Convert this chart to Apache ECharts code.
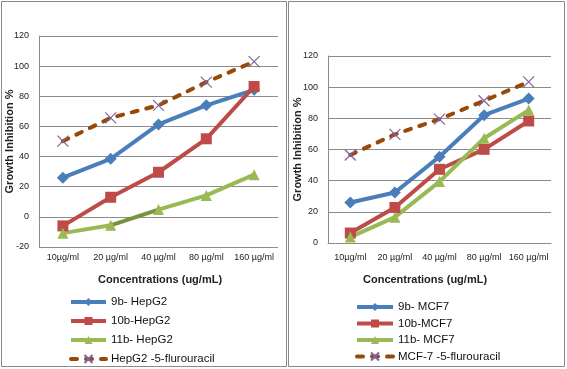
<!DOCTYPE html>
<html><head><meta charset="utf-8">
<script src="https://cdn.jsdelivr.net/npm/echarts@6/dist/echarts.min.js"></script>
<style>html,body{margin:0;padding:0;background:#fff}#c{width:567px;height:369px}</style>
</head><body><div id="c"></div>
<script>
const categories = ['10µg/ml', '20 µg/ml', '40 µg/ml', '80 µg/ml', '160 µg/ml'];
const yTicksLeft = { min: -20, max: 120, step: 20 };
const yTicksRight = { min: 0, max: 120, step: 20 };

const hep9b = [26, 38.5, 61.3, 74, 84.3];
const hep10b = [-6, 13, 29.6, 51.8, 86.5];
const hep11b = [-10.8, -5.6, 4.8, 14.2, 28];
const hep5fu = [50.2, 65.7, 74, 89.4, 103];

const mcf9b = [26, 32.4, 55.4, 82, 92.7];
const mcf10b = [6.4, 22.8, 47.3, 60.1, 78.3];
const mcf11b = [3.8, 16.6, 39.4, 67.2, 85.3];
const mcf5fu = [56.5, 69.7, 79.5, 91.3, 103.4];

const FONT = 'Liberation Sans';
const BLUE = '#4A7EBB', RED = '#BE4B48', GREEN = '#98B954', BROWN = '#984807', PURPLE = '#7F63A1', DKGREEN = '#77933C';
const GRIDC = '#8c8c8c';
const XPATH = 'path://M0,0L10,10M10,0L0,10';

function mk(name, data, color, symbol, size, xi, lineColor) {
  return {
    name, type: 'line', data, xAxisIndex: xi, yAxisIndex: xi,
    symbol, symbolSize: size, showSymbol: true,
    lineStyle: { color: lineColor || color, width: 4 }, itemStyle: { color },
    emphasis: { disabled: true }, animation: false
  };
}
function fu(name, data, xi) {
  return {
    name, type: 'line', data, xAxisIndex: xi, yAxisIndex: xi,
    symbol: XPATH, symbolSize: 11,
    lineStyle: { color: BROWN, width: 4, type: [6, 9], cap: 'round' },
    itemStyle: { color: 'rgba(0,0,0,0)', borderColor: PURPLE, borderWidth: 1.2 },
    emphasis: { disabled: true }, animation: false, z: 3
  };
}
// the 20→40 segment of 11b-HepG2 is drawn darker in the reference
const n = categories.length - 1;
const segGradient = {
  type: 'linear', x: 0, y: 0, x2: 1, y2: 0,
  colorStops: [
    { offset: 0, color: GREEN }, { offset: 1 / n, color: GREEN },
    { offset: 1 / n, color: DKGREEN }, { offset: 2 / n, color: DKGREEN },
    { offset: 2 / n, color: GREEN }, { offset: 1, color: GREEN }
  ]
};
const axisLbl = { color: '#222', fontSize: 9, fontFamily: FONT };
function xAx(gi, margin) {
  return {
    type: 'category', data: categories, gridIndex: gi, boundaryGap: true,
    axisLine: { lineStyle: { color: GRIDC } }, axisTick: { show: false },
    axisLabel: Object.assign({ margin, interval: 0 }, axisLbl)
  };
}
function yAx(gi, t, gap) {
  return {
    type: 'value', gridIndex: gi, min: t.min, max: t.max, interval: t.step,
    name: 'Growth Inhibition %', nameLocation: 'middle', nameGap: gap, nameMoveOverlap: false,
    nameTextStyle: { fontSize: 11, fontWeight: 'bold', fontFamily: FONT, color: '#222' },
    axisLine: { show: true, onZero: false, lineStyle: { color: GRIDC } }, axisTick: { show: false },
    splitLine: { lineStyle: { color: GRIDC } },
    axisLabel: Object.assign({ margin: 10 }, axisLbl)
  };
}
const legendText = { fontSize: 11.5, fontFamily: FONT, color: '#111', lineHeight: 12 };

const chart = echarts.init(document.getElementById('c'), null, { renderer: 'canvas' });
chart.setOption({
  animation: false,
  grid: [
    { left: 39, top: 36, width: 239, height: 211 },
    { left: 328, top: 56, width: 223, height: 187 }
  ],
  xAxis: [xAx(0, 6), xAx(1, 10)],
  yAxis: [yAx(0, yTicksLeft, 24), yAx(1, yTicksRight, 25)],
  legend: [
    { orient: 'vertical', left: 69, top: 296, height: 72, padding: 0, itemWidth: 35, itemHeight: 10, itemGap: 7,
      lineStyle: { width: 4 },
      data: ['9b- HepG2', '10b-HepG2', { name: '11b- HepG2', lineStyle: { color: GREEN } }, 'HepG2 -5-flurouracil'], textStyle: legendText },
    { orient: 'vertical', left: 355, top: 301, height: 68, padding: 0, itemWidth: 36, itemHeight: 10, itemGap: 4.5,
      lineStyle: { width: 4 },
      data: ['9b- MCF7', '10b-MCF7', '11b- MCF7', 'MCF-7 -5-flurouracil'], textStyle: legendText }
  ],
  graphic: [
    { type: 'rect', shape: { x: 1.5, y: 1.5, width: 285, height: 365 }, style: { fill: 'none', stroke: '#8a8a8a', lineWidth: 1 }, silent: true },
    { type: 'rect', shape: { x: 288.5, y: 1.5, width: 276, height: 365 }, style: { fill: 'none', stroke: '#8a8a8a', lineWidth: 1 }, silent: true },
    { type: 'text', left: 98, top: 274, style: { text: 'Concentrations (ug/mL)', font: 'bold 11px "Liberation Sans"', fill: '#222' } },
    { type: 'text', left: 363, top: 274, style: { text: 'Concentrations (ug/mL)', font: 'bold 11px "Liberation Sans"', fill: '#222' } }
  ],
  series: [
    mk('9b- HepG2', hep9b, BLUE, 'diamond', 12, 0),
    mk('10b-HepG2', hep10b, RED, 'rect', 11, 0),
    mk('11b- HepG2', hep11b, GREEN, 'triangle', 11, 0, segGradient),
    fu('HepG2 -5-flurouracil', hep5fu, 0),
    mk('9b- MCF7', mcf9b, BLUE, 'diamond', 12, 1),
    mk('10b-MCF7', mcf10b, RED, 'rect', 11, 1),
    mk('11b- MCF7', mcf11b, GREEN, 'triangle', 11, 1),
    fu('MCF-7 -5-flurouracil', mcf5fu, 1)
  ]
});
</script></body></html>
